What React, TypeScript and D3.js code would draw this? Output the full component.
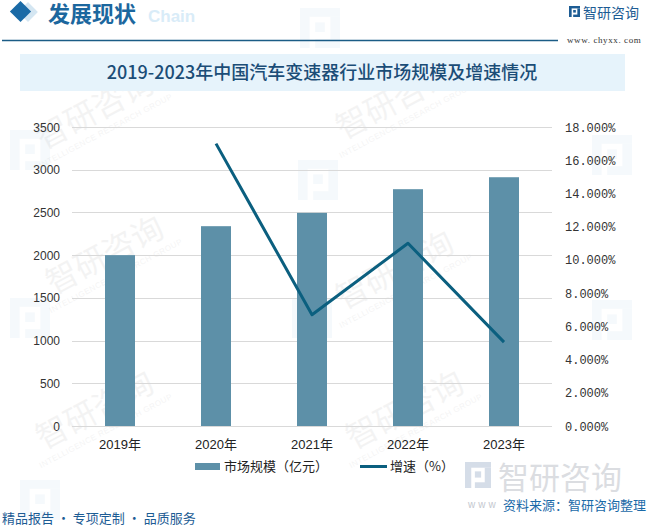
import React from "react";
import * as d3 from "d3";

const years = ["2019年", "2020年", "2021年", "2022年", "2023年"];
const marketSize = [2000, 2339, 2495, 2772, 2912];
const growth: (number | null)[] = [null, 17.0, 6.7, 11.0, 5.05];
const leftTicks = [0, 500, 1000, 1500, 2000, 2500, 3000, 3500];
const rightTicks = [0, 2, 4, 6, 8, 10, 12, 14, 16, 18];
const title = "2019-2023年中国汽车变速器行业市场规模及增速情况";
const legendBar = "市场规模（亿元）";
const legendLine = "增速（%）";

const W = 647;
const H = 526;
const plotL = 72;
const plotR = 552;
const plotT = 127;
const plotB = 426;

const Logo = ({ x, y, s, fill, opacity }: { x: number; y: number; s: number; fill: string; opacity: number }) => (
  <g transform={`translate(${x},${y}) scale(${s})`} fill={fill} opacity={opacity}>
    <rect x={0} y={0} width={10} height={2.2} />
    <rect x={0} y={0} width={2.4} height={10} />
    <rect x={3.8} y={3.6} width={2.4} height={2.4} />
    <rect x={7.6} y={2.2} width={2.4} height={6} />
    <rect x={3.8} y={7.8} width={6.2} height={2.2} />
  </g>
);

const Watermark = ({ x, y }: { x: number; y: number }) => (
  <g transform={`translate(${x},${y}) rotate(-28)`} opacity={0.05}>
    <text x={0} y={0} fontSize={32} fontFamily="Noto Sans CJK SC" fill="#333" textAnchor="middle">智研咨询</text>
    <text x={0} y={15} fontSize={8} fontFamily="Liberation Sans" fill="#333" textAnchor="middle" letterSpacing={0.5}>INTELLIGENCE RESEARCH GROUP</text>
  </g>
);

export default function App() {
  const x = d3.scaleBand<string>().domain(years).range([plotL, plotR]).paddingInner(0.6875).paddingOuter(0.34375);
  const yL = d3.scaleLinear().domain([0, 3500]).range([plotB, plotT]);
  const yR = d3.scaleLinear().domain([0, 18]).range([plotB, plotT]);
  const cx = (d: string) => (x(d) as number) + x.bandwidth() / 2;

  const linePts = years.map((yr, i) => ({ yr, v: growth[i] })).filter((d) => d.v !== null) as { yr: string; v: number }[];
  const linePath = d3
    .line<{ yr: string; v: number }>()
    .x((d) => cx(d.yr))
    .y((d) => yR(d.v))(linePts) as string;

  const barColor = "#5d90a8";
  const lineColor = "#0b5f7f";

  return (
    <svg width={W} height={H} style={{ position: "absolute", left: 0, top: 0 }} xmlns="http://www.w3.org/2000/svg">
      <defs>
        <linearGradient id="footGrad" x1="0" x2="1" y1="0" y2="0">
          <stop offset="0" stopColor="#1d5a85" />
          <stop offset="0.7" stopColor="#3b7eae" />
          <stop offset="1" stopColor="#9cc3df" />
        </linearGradient>
      </defs>
      <rect x={0} y={0} width={W} height={H} fill="#ffffff" />

      {/* watermarks */}
      {[
        [100, 120], [400, 110], [110, 265], [400, 280], [100, 420], [410, 420],
      ].map(([a, b], i) => (
        <Watermark key={i} x={a} y={b} />
      ))}
      {[
        [300, 8], [10, 130], [298, 160], [592, 135], [10, 298], [292, 298], [592, 300], [20, 480],
      ].map(([a, b], i) => (
        <Logo key={i} x={a} y={b} s={4} fill="#7fb6dc" opacity={0.07} />
      ))}

      {/* header */}
      <rect x={21} y={5} width={14} height={14} fill="#cfe3f1" transform="rotate(45 28 12)" opacity={0.9} />
      <rect x={13} y={4} width={15} height={15} fill="#1a6aa6" transform="rotate(45 20.5 11.5)" />
      <text x={148} y={22} fontSize={17} fontWeight="bold" fontFamily="Liberation Sans" fill="#d9ecf8">Chain</text>
      <text x={48} y={22} fontSize={22} fontFamily="Noto Sans CJK SC" fontWeight={700} fill="#1c679e">发展现状</text>
      <line x1={2} x2={558} y1={40.5} y2={40.5} stroke="#1b5c86" strokeWidth={1.5} />
      <Logo x={569} y={6} s={1.1} fill="#1d5c94" opacity={1} />
      <text x={583} y={18} fontSize={14} fontFamily="Noto Sans CJK SC" fill="#1d5c94">智研咨询</text>
      <text x={567} y={43} fontSize={9} fontFamily="Liberation Serif" fill="#333" letterSpacing={0.6}>www. chyxx. com</text>

      {/* title band */}
      <rect x={20} y={54} width={605} height={37} fill="#e6f3fb" />
      <text x={322} y={79} fontSize={18} fontFamily="Noto Sans CJK SC" fontWeight={500} fill="#1b4d77" textAnchor="middle">{title}</text>

      {/* grid */}
      {leftTicks.map((t) => (
        <line key={t} x1={plotL} x2={plotR} y1={Math.round(yL(t)) + 0.5} y2={Math.round(yL(t)) + 0.5} stroke="#d9d9d9" strokeWidth={1} />
      ))}

      {/* bars */}
      {years.map((yr, i) => (
        <rect key={yr} x={x(yr)} y={yL(marketSize[i])} width={x.bandwidth()} height={plotB - yL(marketSize[i])} fill={barColor} />
      ))}

      {/* line */}
      <path d={linePath} fill="none" stroke={lineColor} strokeWidth={3} strokeLinejoin="round" />

      {/* left axis labels */}
      {leftTicks.map((t) => (
        <text key={t} x={60} y={yL(t) + 4.5} fontSize={12} fontFamily="Liberation Sans" fill="#333" textAnchor="end">{t}</text>
      ))}
      {/* right axis labels */}
      {rightTicks.map((t) => (
        <text key={t} x={565} y={yR(t) + 4.5} fontSize={12} fontFamily="Liberation Mono" fill="#333">{`${t}.000%`}</text>
      ))}
      {/* x labels */}
      {years.map((yr) => (
        <text key={yr} x={cx(yr)} y={449} fontSize={13} fontFamily="Liberation Sans, Noto Sans CJK SC" fill="#222" textAnchor="middle">{yr}</text>
      ))}

      {/* legend */}
      <rect x={195} y={463} width={25} height={7} fill={barColor} />
      <text x={224} y={471} fontSize={13} fontFamily="Noto Sans CJK SC" fill="#222">{legendBar}</text>
      <line x1={360} x2={387} y1={466.5} y2={466.5} stroke={lineColor} strokeWidth={3} />
      <text x={390} y={471} fontSize={13} fontFamily="Noto Sans CJK SC" fill="#222">{legendLine}</text>

      {/* footer */}
      <g opacity={0.35}>
        <Logo x={465} y={462} s={2.6} fill="#8aa0c0" opacity={1} />
        <text x={498} y={489} fontSize={31} fontFamily="Noto Sans CJK SC" fill="#9aa0ab">智研咨询</text>
      </g>
      <line x1={2} x2={463} y1={505} y2={505} stroke="url(#footGrad)" strokeWidth={1.5} />
      <text x={468} y={508} fontSize={10} fontFamily="Liberation Sans" fill="#c4c8cf" letterSpacing={3}>www</text>
      <text x={646} y={510} fontSize={13} fontFamily="Noto Sans CJK SC" fill="#1a6aa8" textAnchor="end">资料来源：智研咨询整理</text>
      <text x={2} y={523} fontSize={13} fontFamily="Noto Sans CJK SC" fill="#1d5c94">精品报告 · 专项定制 · 品质服务</text>
    </svg>
  );
}
